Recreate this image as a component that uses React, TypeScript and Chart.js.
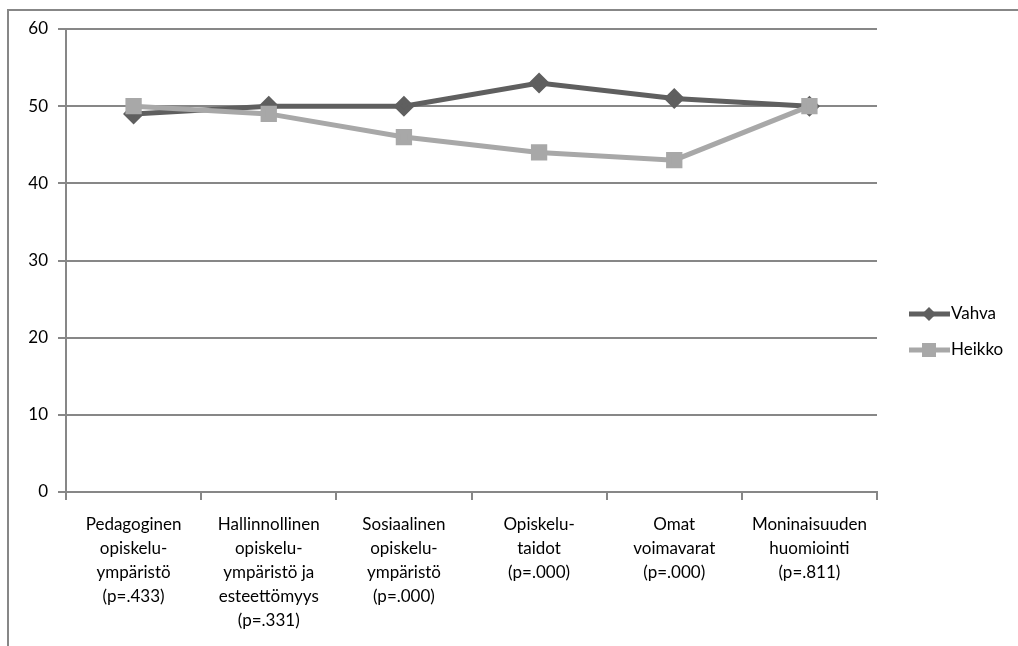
import React, { useEffect, useRef } from "react";
import { Chart, registerables } from "chart.js";

Chart.register(...registerables);

const categories: string[][] = [
  ["Pedagoginen", "opiskelu-", "ympäristö", "(p=.433)"],
  ["Hallinnollinen", "opiskelu-", "ympäristö ja", "esteettömyys", "(p=.331)"],
  ["Sosiaalinen", "opiskelu-", "ympäristö", "(p=.000)"],
  ["Opiskelu-", "taidot", "(p=.000)"],
  ["Omat", "voimavarat", "(p=.000)"],
  ["Moninaisuuden", "huomiointi", "(p=.811)"],
];
const vahva = [49, 50, 50, 53, 51, 50];
const heikko = [50, 49, 46, 44, 43, 50];
const seriesNames = ["Vahva", "Heikko"];
const yTicks = [0, 10, 20, 30, 40, 50, 60];

const FONT = "Lato, 'Open Sans', sans-serif";
const GRID = "#878787";
const DARK = "#5f5f5f";
const LIGHT = "#a8a8a8";

const framePlugin = {
  id: "frame",
  beforeDraw(chart: any) {
    const ctx = chart.ctx;
    ctx.save();
    ctx.fillStyle = "#ffffff";
    ctx.fillRect(0, 0, chart.width, chart.height);
    ctx.strokeStyle = GRID;
    ctx.lineWidth = 2;
    ctx.beginPath();
    ctx.moveTo(8, chart.height + 5);
    ctx.lineTo(8, 10);
    ctx.lineTo(chart.width + 5, 10);
    ctx.stroke();
    ctx.restore();
  },
};

const legendPlugin = {
  id: "customLegend",
  afterDraw(chart: any) {
    const ctx = chart.ctx;
    ctx.save();
    const items = chart.data.datasets;
    const orderY = [314, 350];
    items.forEach((ds: any, i: number) => {
      const y = orderY[i];
      ctx.strokeStyle = ds.borderColor;
      ctx.lineWidth = 5;
      ctx.beginPath();
      ctx.moveTo(909, y);
      ctx.lineTo(950, y);
      ctx.stroke();
      ctx.fillStyle = ds.pointBackgroundColor;
      if (ds.pointStyle === "rectRot") {
        ctx.beginPath();
        ctx.moveTo(929, y - 7);
        ctx.lineTo(936, y);
        ctx.lineTo(929, y + 7);
        ctx.lineTo(922, y);
        ctx.closePath();
        ctx.fill();
      } else {
        ctx.fillRect(922, y - 7, 14, 14);
      }
      ctx.fillStyle = "#000";
      ctx.font = `17px ${FONT}`;
      ctx.textBaseline = "middle";
      ctx.textAlign = "left";
      ctx.fillText(ds.label, 951, y);
    });
    ctx.restore();
  },
};

export default function App() {
  const ref = useRef<HTMLCanvasElement | null>(null);
  useEffect(() => {
    if (!ref.current) return;
    const chart = new Chart(ref.current, {
      type: "line",
      data: {
        labels: categories,
        datasets: [
          {
            label: seriesNames[0],
            data: vahva,
            borderColor: DARK,
            backgroundColor: DARK,
            pointBackgroundColor: DARK,
            pointBorderColor: DARK,
            pointStyle: "rectRot",
            pointRadius: 7,
            borderWidth: 5,
            tension: 0,
            order: 1,
          },
          {
            label: seriesNames[1],
            data: heikko,
            borderColor: LIGHT,
            backgroundColor: LIGHT,
            pointBackgroundColor: LIGHT,
            pointBorderColor: LIGHT,
            pointStyle: "rect",
            pointRadius: 8,
            borderWidth: 5,
            tension: 0,
            order: 0,
          },
        ],
      },
      options: {
        animation: false,
        responsive: false,
        maintainAspectRatio: false,
        layout: { padding: { left: 0, right: 141, top: 29, bottom: 0 } },
        plugins: {
          legend: { display: false },
          tooltip: { enabled: false },
        },
        scales: {
          x: {
            type: "category",
            offset: true,
            grid: {
              display: true,
              offset: true,
              drawOnChartArea: false,
              drawTicks: true,
              tickLength: 8,
              color: GRID,
              lineWidth: 2,
            },
            border: { display: true, color: GRID, width: 2 },
            ticks: {
              color: "#000",
              font: { family: FONT, size: 17, lineHeight: "24px" },
              padding: 13,
              maxRotation: 0,
              minRotation: 0,
              autoSkip: false,
            },
            afterFit: (scale: any) => {
              scale.height = 154;
            },
          },
          y: {
            min: 0,
            max: 60,
            afterBuildTicks: (scale: any) => {
              scale.ticks = yTicks.map((v) => ({ value: v }));
            },
            grid: {
              color: GRID,
              lineWidth: 2,
              tickLength: 8,
              drawTicks: true,
            },
            border: { display: true, color: GRID, width: 2 },
            ticks: {
              color: "#000",
              font: { family: FONT, size: 17 },
              padding: 10,
            },
            afterFit: (scale: any) => {
              scale.width = 66;
            },
          },
        },
      },
      plugins: [framePlugin, legendPlugin],
    });
    return () => chart.destroy();
  }, []);
  return (
    <div style={{ position: "fixed", left: 0, top: 0, width: 1018, height: 646 }}>
      <canvas ref={ref} width={1018} height={646} style={{ width: 1018, height: 646 }} />
    </div>
  );
}
